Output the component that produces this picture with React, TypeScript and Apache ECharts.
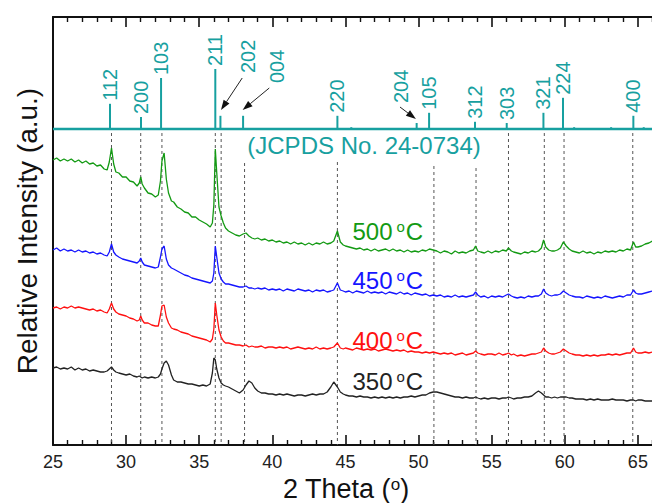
import React, { useEffect, useRef } from "react";
import * as echarts from "echarts";

// ---- measured pattern (2θ grid shared by all four samples) ----
const twoTheta = [
  25, 25.25, 25.5, 25.75, 26, 26.25, 26.5, 26.75, 27, 27.25, 27.5, 27.75, 28, 28.25, 28.5,
  28.7, 28.85, 29.0, 29.15, 29.3, 29.5,
  29.75, 30, 30.25, 30.5, 30.75,
  30.9, 31.0, 31.1, 31.25,
  31.5, 31.75, 32, 32.2,
  32.35, 32.45, 32.6, 32.75, 32.9, 33.1,
  33.25, 33.5, 33.75, 34, 34.25, 34.5, 34.75, 35, 35.25, 35.5, 35.75,
  35.9, 36.0, 36.1, 36.2, 36.35, 36.5, 36.65, 36.8,
  37, 37.25, 37.5, 37.75, 38, 38.2, 38.4, 38.6, 38.8, 39, 39.25, 39.5, 39.75, 40,
  40.25, 40.5, 40.75, 41, 41.25, 41.5, 41.75, 42, 42.25, 42.5, 42.75, 43, 43.25, 43.5, 43.75, 44,
  44.2, 44.45, 44.65, 44.85,
  45, 45.25, 45.5, 45.75, 46, 46.25, 46.5, 46.75, 47, 47.25, 47.5, 47.75, 48, 48.25, 48.5, 48.75, 49, 49.25,
  49.5, 49.75, 50, 50.25, 50.5, 50.75, 51, 51.25, 51.5, 51.75, 52, 52.25, 52.5, 52.75, 53, 53.25, 53.5, 53.75,
  53.9, 54.05,
  54.25, 54.5, 54.75, 55, 55.25, 55.5, 55.75, 56, 56.15, 56.35, 56.5, 56.75, 57, 57.25, 57.5, 57.75, 58,
  58.2, 58.4, 58.55, 58.7, 58.9,
  59.1, 59.3, 59.5, 59.7, 59.9, 60.1, 60.3, 60.5,
  60.75, 61, 61.25, 61.5, 61.75, 62, 62.25, 62.5, 62.75, 63, 63.25, 63.5, 63.75, 64, 64.25, 64.5,
  64.7, 64.85,
  65, 65.25, 65.5, 65.75, 66,
];

const intensity500 = [
  285, 287, 284, 286, 284, 286, 283, 285, 282, 284, 281, 282, 279, 280, 276,
  275, 283, 297, 281, 273, 272,
  268, 268, 264, 263, 259,
  262, 268, 261, 257,
  252, 251, 248, 250,
  264, 284, 292, 266, 252, 244,
  243, 238, 236, 233, 232, 228, 228, 225, 223, 221, 218,
  222, 240, 296, 272, 238, 229, 222, 217,
  214, 212, 210, 209, 211, 212, 209, 207, 206, 207, 205, 206, 204, 205,
  203, 204, 202, 203, 201, 203, 201, 202, 200, 202, 200, 202, 201, 203, 201, 202,
  204, 214, 203, 200,
  199, 198, 197, 196, 197, 195, 196, 194, 196, 194, 195, 196, 194, 196, 194, 195, 193, 195,
  193, 194, 193, 195, 194, 196, 195, 194, 192, 194, 193, 191, 194, 192, 193, 192, 194, 195,
  199, 194,
  193, 192, 194, 192, 194, 193, 195, 194, 197, 194, 193, 192, 191, 193, 192, 194, 193,
  194, 197, 205, 198, 195,
  194, 194, 195, 197, 203, 199, 196, 194,
  193, 192, 194, 192, 193, 191, 193, 192, 194, 193, 194, 193, 195, 194, 196, 195,
  203, 198,
  198, 199, 201, 202, 204,
];

const intensity450 = [
  195, 197, 194, 196, 194, 195, 193, 195, 193, 194, 192, 193, 191, 192, 190,
  189, 193, 201, 193, 190, 188,
  186, 185, 184, 183, 182,
  184, 187, 183, 180,
  179, 178, 177, 178,
  188, 196, 199, 186, 180, 177,
  176, 174, 172, 170, 169, 167, 166, 165, 164, 163, 162,
  164, 172, 199, 188, 172, 166, 163, 161,
  161, 160, 159, 158, 158, 159, 157, 157, 156, 157, 156, 157, 155, 156,
  155, 156, 154, 156, 155, 154, 156, 155, 154, 155, 153, 155, 154, 155, 153, 154,
  155, 162, 155, 154,
  153, 154, 152, 154, 153, 152, 154, 152, 153, 152, 153, 151, 153, 152, 151, 153, 151, 152,
  150, 152, 151, 150, 151, 149, 150, 149, 150, 148, 149, 148, 150, 148, 149, 148, 149, 150,
  153, 150,
  148, 149, 147, 149, 148, 149, 148, 150, 151, 149, 148, 147, 148, 147, 149, 148, 149,
  149, 151, 156, 152, 150,
  149, 150, 150, 151, 154, 152, 150, 149,
  148, 148, 147, 149, 148, 147, 148, 147, 149, 148, 147, 148, 149, 148, 150, 150,
  155, 152,
  151, 151, 152, 153, 154,
];

const intensity400 = [
  137, 138, 136, 138, 137, 139, 137, 138, 137, 136, 135, 136, 134, 135, 133,
  132, 136, 142, 136, 133, 131,
  130, 129, 127, 126, 124,
  125, 129, 125, 122,
  122, 120, 119, 119,
  130, 139, 140, 128, 122, 117,
  116, 115, 113, 112, 111, 109, 108, 107, 106, 105, 103,
  106, 116, 142, 130, 115, 108, 104, 102,
  102, 101, 100, 100, 99, 100, 98, 99, 98, 98, 99, 97, 98, 98,
  97, 98, 97, 98, 96, 97, 98, 97, 96, 97, 96, 98, 96, 97, 96, 97,
  98, 102, 97, 96,
  97, 96, 95, 97, 96, 95, 96, 95, 96, 94, 95, 96, 95, 94, 95, 94, 95, 93,
  94, 93, 93, 92, 93, 92, 93, 92, 91, 92, 91, 92, 90, 91, 92, 90, 91, 92,
  94, 92,
  91, 90, 91, 91, 90, 92, 90, 91, 92, 90, 91, 89, 90, 89, 90, 91, 91,
  92, 93, 97, 94, 92,
  91, 91, 92, 93, 96, 94, 92, 91,
  90, 90, 89, 90, 89, 90, 89, 90, 90, 91, 90, 91, 90, 91, 92, 92,
  97, 93,
  92, 92, 93, 92, 93,
];

const intensity350 = [
  77, 78, 76, 77, 76, 78, 75, 77, 75, 76, 74, 75, 74, 73, 73,
  74, 76, 78, 75, 73, 72,
  71, 70, 71, 69, 68,
  69, 68, 67, 68,
  67, 68, 67, 68,
  71, 76, 82, 84, 80, 70,
  65, 63, 63, 62, 61, 61, 60, 59, 60, 59, 61,
  72, 87, 85, 76, 67, 62, 60, 59,
  58, 56, 54, 52, 55, 60, 64, 62, 57, 54, 52, 52, 51, 51,
  50, 51, 50, 51, 50, 49, 50, 50, 49, 50, 51, 50, 51, 51, 53, 58,
  63, 58, 53, 51,
  50, 49, 49, 48, 49, 48, 48, 47, 48, 47, 48, 47, 48, 47, 48, 47, 48, 48,
  49, 48, 49, 50, 50, 52, 53, 53, 52, 51, 50, 49, 48, 48, 47, 48, 47, 47,
  48, 47,
  46, 47, 46, 47, 47, 46, 47, 47, 48, 47, 46, 47, 47, 48, 48, 49, 52,
  54, 52, 50, 48, 48,
  47, 48, 47, 48, 48, 48, 47, 47,
  46, 46, 46, 45, 46, 45, 46, 45, 45, 45, 46, 45, 45, 45, 44, 45,
  45, 44,
  45, 45, 44, 44, 44,
];

// ---- JCPDS No. 24-0734 reference pattern ----
const refPositions = [28.9, 31.02, 32.39, 36.1, 36.45, 38.0, 44.45, 49.87, 50.72, 53.86, 56.03, 58.54, 59.88, 64.69, 45.4, 60.64, 63.17, 65.4];
const refIntensities = [42, 20, 85, 100, 22, 22, 22, 10, 27, 12, 10, 27, 52, 22, 3, 3, 3, 3];
const refHkl = ["112", "200", "103", "211", "202", "004", "220", "204", "105", "312", "303", "321", "224", "400", "", "", "", ""];

// guide lines dropped from reference peaks
const guidePositions = [29.0, 31.0, 32.45, 36.1, 36.5, 38.1, 44.45, 51.05, 53.93, 56.15, 58.6, 59.95, 64.65];
const guideTops = [312, 312, 312, 312, 312, 282, 283, 279, 277, 312, 312, 312, 312];

const sampleTemps = ["350", "400", "450", "500"];

// ---- layout / style ----
const FONT = "'Liberation Sans', Arial, Helvetica, sans-serif";
const TEAL = "#17a0a0";
const COLORS = ["#222222", "#ff1010", "#1515ff", "#139a13"];
const REF_BASE = 316;
const REF_SCALE = 0.6;
const calloutHkl = ["202", "004", "204"];
const calloutLabelAt = [[38.37, 372], [40.3, 362], [48.8, 342]];
const calloutArrowFrom = [[37.94, 367], [39.79, 357], [48.73, 338]];
const calloutArrowTo = [[36.49, 335], [37.97, 335], [49.82, 326]];
const tempLabelAt = [[47.9, 64], [47.9, 105], [47.9, 165], [47.9, 214]];
const jcpdsLabelAt = [46.27, 300];

export default function App() {
  const ref = useRef<HTMLDivElement>(null);

  useEffect(() => {
    if (!ref.current) return;
    const chart = echarts.init(ref.current, undefined, { renderer: "svg" });

    const curves = [intensity350, intensity400, intensity450, intensity500].map((arr, k) => ({
      type: "line",
      name: sampleTemps[k],
      data: twoTheta.map((x, i) => [x, arr[i]]),
      showSymbol: false,
      symbol: "none",
      silent: true,
      z: 3,
      lineStyle: { width: 1.3, color: COLORS[k] },
      itemStyle: { color: COLORS[k] },
    }));

    const axisCommon = {
      type: "value",
      min: 25,
      max: 70,
      interval: 5,
      splitLine: { show: false },
      axisLine: { show: true, lineStyle: { color: "#111", width: 2 } },
      axisTick: { show: true, inside: true, length: 10, lineStyle: { color: "#111", width: 1.6 } },
      minorTick: { show: true, splitNumber: 5, length: 5, lineStyle: { color: "#111", width: 1.4 } },
    };

    const option: any = {
      animation: false,
      backgroundColor: "#ffffff",
      textStyle: { fontFamily: FONT },
      grid: { left: 53, top: 17, bottom: 58, right: 0, containLabel: false, outerBoundsMode: "none" },
      xAxis: [
        {
          ...axisCommon,
          position: "bottom",
          axisLabel: { fontSize: 18, color: "#222", margin: 8, fontFamily: FONT, showMaxLabel: false },
          name: "2 Theta ({s|o})",
          nameLocation: "middle",
          nameGap: 27,
          nameTextStyle: {
            fontSize: 27,
            color: "#111",
            fontFamily: FONT,
            padding: [0, 72, 0, 0],
            rich: { s: { fontSize: 17, verticalAlign: "top", color: "#111", fontFamily: FONT } },
          },
        },
        {
          ...axisCommon,
          position: "top",
          axisLabel: { show: false },
        },
      ],
      yAxis: {
        type: "value",
        min: 0,
        max: 428,
        axisLine: { show: true, lineStyle: { color: "#111", width: 2 } },
        axisTick: { show: false },
        axisLabel: { show: false },
        splitLine: { show: false },
        name: "Relative Intensity (a.u.)",
        nameLocation: "middle",
        nameGap: 12,
        nameTextStyle: { fontSize: 28, color: "#111", fontFamily: FONT },
      },
      series: [
        // dashed guide lines
        {
          type: "custom",
          silent: true,
          z: 1,
          data: guidePositions.map((p, i) => [p, guideTops[i]]),
          renderItem: (_p: any, api: any) => {
            const x = api.value(0);
            const a = api.coord([x, api.value(1)]);
            const b = api.coord([x, 0]);
            return {
              type: "line",
              shape: { x1: a[0], y1: a[1], x2: b[0], y2: b[1] },
              style: { stroke: "#555", lineWidth: 1, lineDash: [3, 3] },
            };
          },
        },
        ...curves,
        // reference baseline
        {
          type: "line",
          data: [[25, REF_BASE], [66, REF_BASE]],
          showSymbol: false,
          symbol: "none",
          silent: true,
          z: 4,
          lineStyle: { width: 2.5, color: TEAL },
        },
        // reference sticks with hkl labels
        {
          type: "custom",
          silent: true,
          z: 5,
          data: refPositions.map((p, i) => [p, refIntensities[i], i]),
          renderItem: (_p: any, api: any) => {
            const x = api.value(0);
            const h = api.value(1);
            const i = api.value(2);
            const a = api.coord([x, REF_BASE]);
            const b = api.coord([x, REF_BASE + h * REF_SCALE]);
            const children: any[] = [
              { type: "line", shape: { x1: a[0], y1: a[1], x2: b[0], y2: b[1] }, style: { stroke: TEAL, lineWidth: 2 } },
            ];
            const hkl = refHkl[i];
            if (hkl && calloutHkl.indexOf(hkl) < 0) {
              children.push({
                type: "text",
                x: b[0],
                y: b[1] - 3,
                rotation: Math.PI / 2,
                style: { text: hkl, fill: TEAL, fontSize: 20, fontFamily: FONT, align: "left", verticalAlign: "middle" },
              });
            }
            return { type: "group", children };
          },
        },
        // callout labels with arrows
        {
          type: "custom",
          silent: true,
          z: 5,
          data: calloutHkl.map((_h, i) => [calloutLabelAt[i][0], calloutLabelAt[i][1], i]),
          renderItem: (_p: any, api: any) => {
            const i = api.value(2);
            const lp = api.coord([api.value(0), api.value(1)]);
            const t = api.coord(calloutArrowFrom[i]);
            const h = api.coord(calloutArrowTo[i]);
            const dx = h[0] - t[0];
            const dy = h[1] - t[1];
            const len = Math.sqrt(dx * dx + dy * dy);
            const ux = dx / len;
            const uy = dy / len;
            const hl = 10;
            const hw = 3.5;
            const bx = h[0] - ux * hl;
            const by = h[1] - uy * hl;
            return {
              type: "group",
              children: [
                {
                  type: "text",
                  x: lp[0],
                  y: lp[1],
                  rotation: Math.PI / 2,
                  style: { text: calloutHkl[i], fill: TEAL, fontSize: 20, fontFamily: FONT, align: "left", verticalAlign: "middle" },
                },
                {
                  type: "line",
                  shape: { x1: t[0], y1: t[1], x2: bx, y2: by },
                  style: { stroke: "#222", lineWidth: 1 },
                },
                {
                  type: "polygon",
                  shape: { points: [[h[0], h[1]], [bx - uy * hw, by + ux * hw], [bx + uy * hw, by - ux * hw]] },
                  style: { fill: "#111" },
                },
              ],
            };
          },
        },
        // JCPDS caption and temperature labels
        {
          type: "custom",
          silent: true,
          z: 6,
          data: [[jcpdsLabelAt[0], jcpdsLabelAt[1], -1], ...tempLabelAt.map((c, i) => [c[0], c[1], i])],
          renderItem: (_p: any, api: any) => {
            const k = api.value(2);
            const p = api.coord([api.value(0), api.value(1)]);
            if (k < 0) {
              return {
                type: "text",
                x: p[0],
                y: p[1],
                style: { text: "(JCPDS No. 24-0734)", fill: TEAL, fontSize: 24, fontFamily: FONT, align: "center", verticalAlign: "middle" },
              };
            }
            const c = COLORS[k];
            return {
              type: "text",
              x: p[0],
              y: p[1],
              style: {
                text: `{n|${sampleTemps[k]}}{d|o}{n|C}`,
                align: "center",
                verticalAlign: "middle",
                rich: {
                  n: { fontSize: 24, fill: c, fontFamily: FONT },
                  d: { fontSize: 15, fill: c, fontFamily: FONT, verticalAlign: "top", padding: [0, 1, 0, 4] },
                },
              },
            };
          },
        },
      ],
    };

    chart.setOption(option);
    return () => chart.dispose();
  }, []);

  return (
    <div style={{ position: "absolute", left: 0, top: 0, width: 652, height: 503, overflow: "hidden", background: "#fff" }}>
      <div ref={ref} style={{ position: "absolute", left: 0, top: 0, width: 711, height: 503 }} />
    </div>
  );
}
